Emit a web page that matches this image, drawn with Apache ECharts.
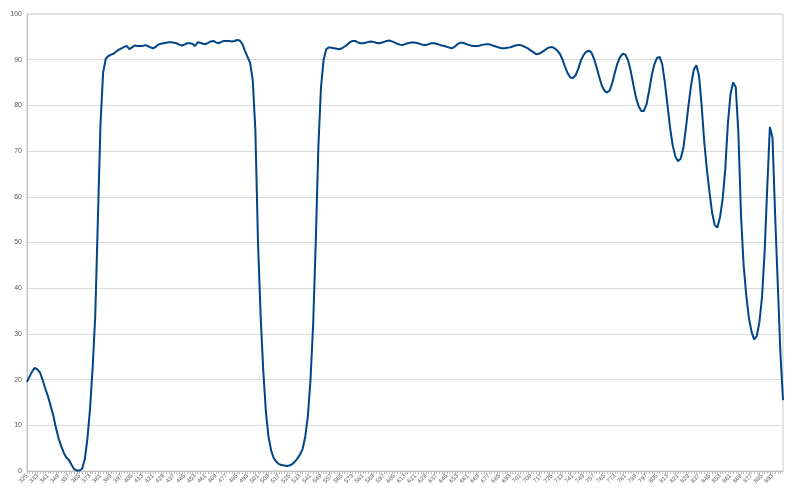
<!DOCTYPE html>
<html>
<head>
    <meta charset="utf-8">
    <title>Transmission</title>
    <script src="https://cdn.jsdelivr.net/npm/echarts@6/dist/echarts.min.js"></script>
    <style>
        html, body { margin: 0; padding: 0; background: #fff; }
    </style>
</head>
<body>
    <div id="main" style="width: 800px;height:495px;"></div>
    <script type="text/javascript">
    // wavelength, 2 nm steps from 325 to 901
    var startNm = 325;
    var stepNm = 2;
    var yTicks = [0, 10, 20, 30, 40, 50, 60, 70, 80, 90, 100];

    // 325 - 399
    var valuesA = [19.5, 20.7, 21.8, 22.6, 22.2, 21.5, 19.8, 18.0, 16.3, 14.3,
                   12.2, 9.5, 7.2, 5.5, 4.0, 2.9, 2.4, 1.3, 0.4, 0.1,
                   0.1, 0.5, 2.5, 7.0, 13.5, 22.5, 34, 55, 76, 87.2,
                   90.2, 90.8, 91.1, 91.3, 91.8, 92.2, 92.5, 92.8];
    // 401 - 499
    var valuesB = [93.0, 92.3, 92.7, 93.1, 93.0, 93.0, 93.0, 93.2, 93.0, 92.7,
                   92.5, 92.8, 93.3, 93.5, 93.6, 93.7, 93.8, 93.8, 93.7, 93.6,
                   93.3, 93.1, 93.3, 93.6, 93.6, 93.5, 93.0, 93.8, 93.7, 93.5,
                   93.4, 93.7, 94.0, 94.1, 93.8, 93.6, 93.9, 94.1, 94.1, 94.1,
                   94.0, 94.1, 94.3, 94.2, 93.5, 92.0, 90.6, 89.3, 85.5, 74.6];
    // 501 - 599
    var valuesC = [50, 34, 22, 13, 7.5, 4.5, 2.8, 2.0, 1.5, 1.3,
                   1.2, 1.1, 1.2, 1.5, 2.0, 2.7, 3.6, 4.8, 7.5, 12,
                   20, 32, 50, 71, 84, 90, 92.3, 92.7, 92.6, 92.5,
                   92.4, 92.3, 92.5, 92.9, 93.3, 93.8, 94.1, 94.1, 93.8, 93.6,
                   93.6, 93.7, 93.9, 94.0, 93.9, 93.7, 93.6, 93.7, 93.9, 94.1];
    // 601 - 699
    var valuesD = [94.2, 94.0, 93.8, 93.5, 93.3, 93.2, 93.4, 93.6, 93.7, 93.8,
                   93.7, 93.6, 93.4, 93.2, 93.2, 93.4, 93.6, 93.6, 93.5, 93.3,
                   93.1, 93.0, 92.8, 92.6, 92.5, 92.9, 93.4, 93.7, 93.7, 93.5,
                   93.3, 93.1, 93.0, 93.0, 93.0, 93.2, 93.3, 93.4, 93.4, 93.2,
                   93.0, 92.8, 92.6, 92.5, 92.5, 92.6, 92.7, 92.9, 93.1, 93.2];
    // 701 - 799
    var valuesE = [93.2, 93.0, 92.7, 92.4, 92.0, 91.6, 91.2, 91.3, 91.6, 92.0,
                   92.4, 92.7, 92.8, 92.5, 92.0, 91.3, 90.0, 88.4, 87.0, 86.1,
                   86.0, 86.6, 88.0, 89.8, 91.0, 91.7, 92.0, 91.6, 90.2, 88.3,
                   86.2, 84.3, 83.2, 82.8, 83.3, 85.0, 87.3, 89.3, 90.6, 91.3,
                   91.1, 89.8, 87.5, 84.5, 81.7, 79.8, 78.8, 78.8, 80.2, 83.2];
    // 801 - 901
    var valuesF = [86.6, 89.0, 90.4, 90.6, 89.0, 85.0, 80.0, 75.0, 71.2, 68.8,
                   67.8, 68.3, 70.5, 75.0, 80.0, 84.5, 87.8, 88.8, 86.5, 80.0,
                   72.0, 66.0, 61.0, 56.5, 53.8, 53.3, 55.5, 59.5, 66, 76,
                   82.5, 85.0, 84.0, 74, 56, 45, 38.5, 33.5, 30.5, 28.8,
                   29.5, 32.5, 38, 48, 62, 75.3, 73.0, 56, 41, 26,
                   15.5];

    var values = [].concat(valuesA, valuesB, valuesC, valuesD, valuesE, valuesF);
    var wavelengths = [];
    for (var i = 0; i < values.length; i++) {
        wavelengths.push(String(startNm + i * stepNm));
    }

    var myChart = echarts.init(document.getElementById('main'));
    var option = {
        animation: false,
        backgroundColor: '#ffffff',
        grid: {
            left: 27,
            right: 17,
            top: 14,
            bottom: 24,
            show: true,
            borderColor: '#c8c8c8',
            borderWidth: 1
        },
        xAxis: {
            type: 'category',
            data: wavelengths,
            boundaryGap: false,
            axisLine: { lineStyle: { color: '#c0c0c0', width: 1 } },
            axisTick: { interval: 0, length: 3, lineStyle: { color: '#c0c0c0' } },
            axisLabel: {
                interval: 3,
                rotate: 45,
                fontSize: 6,
                margin: 4,
                color: '#555',
                showMaxLabel: false,
                fontFamily: 'Liberation Sans'
            },
            splitLine: { show: false }
        },
        yAxis: {
            type: 'value',
            min: yTicks[0],
            max: yTicks[yTicks.length - 1],
            interval: 10,
            axisLine: { show: true, lineStyle: { color: '#c0c0c0' } },
            axisTick: { show: false },
            axisLabel: {
                fontSize: 7,
                margin: 5,
                color: '#555',
                fontFamily: 'Liberation Sans'
            },
            splitLine: { lineStyle: { color: '#dadada', width: 1 } }
        },
        series: [{
            type: 'line',
            data: values,
            showSymbol: false,
            smooth: false,
            lineStyle: { color: '#004586', width: 2 }
        }]
    };
    myChart.setOption(option);
    </script>
</body>
</html>
